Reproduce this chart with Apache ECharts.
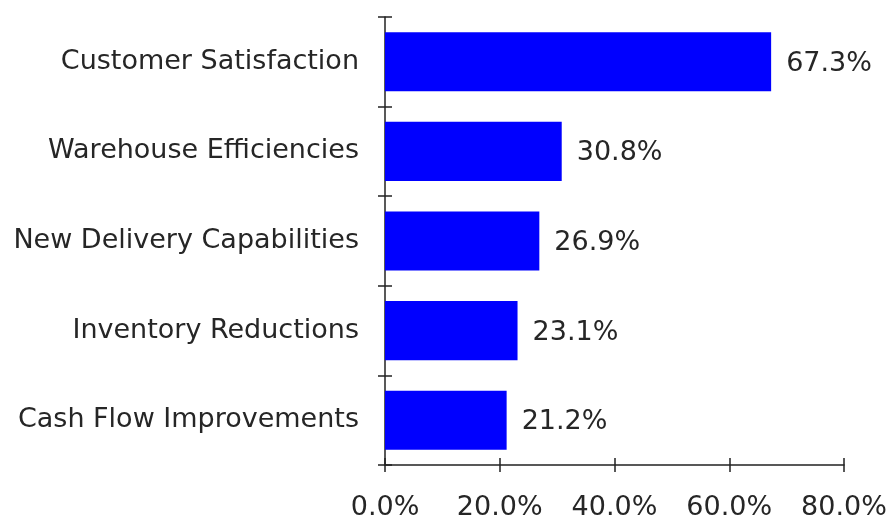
<!DOCTYPE html>
<html>
<head>
<meta charset="utf-8">
<script src="https://cdn.jsdelivr.net/npm/echarts@6/dist/echarts.min.js"></script>
<style>html,body{margin:0;padding:0;background:#fff}#c{width:896px;height:522px}</style>
</head>
<body>
<div id="c"></div>
<script>
const categories = ['Customer Satisfaction', 'Warehouse Efficiencies', 'New Delivery Capabilities', 'Inventory Reductions', 'Cash Flow Improvements'];
const values = [67.3, 30.8, 26.9, 23.1, 21.2];
const xTicks = [0, 20, 40, 60, 80];

const font = 'DejaVu Sans, Verdana, sans-serif';
const ink = '#262626';
const lineCol = '#222';
const gridRect = { left: 385, right: 52, top: 17, bottom: 57, outerBoundsMode: 'none' };

const chart = echarts.init(document.getElementById('c'), null, { renderer: 'canvas' });
chart.setOption({
  backgroundColor: '#fff',
  animation: false,
  grid: [Object.assign({}, gridRect), Object.assign({}, gridRect)],
  xAxis: [{
    type: 'value', gridIndex: 0,
    min: xTicks[0], max: xTicks[xTicks.length - 1], interval: 20,
    axisLine: { show: true, lineStyle: { color: lineCol, width: 1.5 } },
    axisTick: { show: true, length: 7, lineStyle: { color: lineCol, width: 1.5 } },
    splitLine: { show: false },
    axisLabel: { color: ink, fontFamily: font, fontSize: 27, margin: 29,
      formatter: v => v.toFixed(1) + '%' }
  }, {
    type: 'value', gridIndex: 1,
    min: xTicks[0], max: xTicks[xTicks.length - 1], interval: 20,
    axisLine: { show: false },
    axisTick: { show: true, inside: true, length: 7, lineStyle: { color: lineCol, width: 1.5 } },
    splitLine: { show: false },
    axisLabel: { show: false }
  }],
  yAxis: [{
    type: 'category', gridIndex: 0, data: categories, inverse: true,
    axisLine: { show: true, lineStyle: { color: lineCol, width: 1.5 } },
    axisTick: { show: true, length: 7, lineStyle: { color: lineCol, width: 1.5 } },
    axisLabel: { color: ink, fontFamily: font, fontSize: 27, margin: 26, padding: [4, 0, 0, 0] }
  }, {
    type: 'category', gridIndex: 1, data: categories, inverse: true,
    axisLine: { show: false },
    axisTick: { show: true, inside: true, length: 7, lineStyle: { color: lineCol, width: 1.5 } },
    axisLabel: { show: false }
  }],
  series: [{
    type: 'bar', xAxisIndex: 0, yAxisIndex: 0,
    data: values,
    barCategoryGap: '34%',
    itemStyle: { color: '#0000FF' },
    label: { show: true, position: 'right', distance: 15, offset: [0, 2], color: ink, fontFamily: font, fontSize: 27,
      formatter: p => p.value.toFixed(1) + '%' }
  }]
});
</script>
</body>
</html>
